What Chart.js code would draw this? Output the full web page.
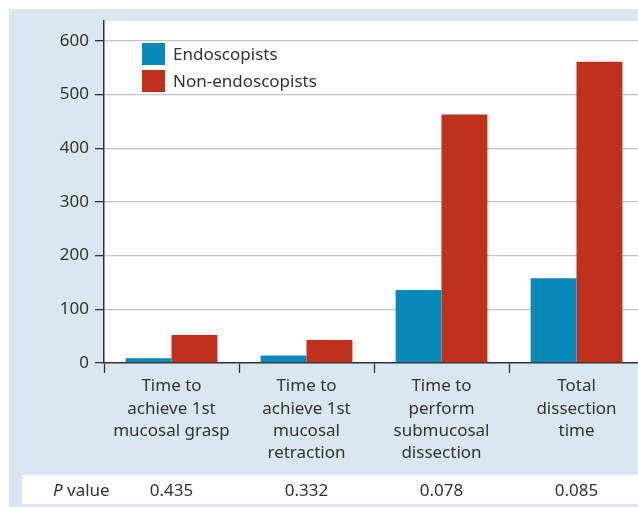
<!DOCTYPE html>
<html>
<head>
<meta charset="utf-8">
<script src="https://cdn.jsdelivr.net/npm/chart.js@4/dist/chart.umd.min.js"></script>
<style>
  html, body { margin: 0; padding: 0; background: #fff; overflow: hidden; }
  #wrap { width: 638px; height: 507px; overflow: hidden; }
  canvas { display: block; }
</style>
</head>
<body>
<div id="wrap"><canvas id="chart" width="644" height="507"></canvas></div>
<script>
// categories (multi-line labels)
const categories = [
    ['Time to', 'achieve 1st', 'mucosal grasp'],
    ['Time to', 'achieve 1st', 'mucosal', 'retraction'],
    ['Time to', 'perform', 'submucosal', 'dissection'],
    ['Total', 'dissection', 'time']
];
const endoscopists = [9, 14, 136, 158];
const nonEndoscopists = [52, 43, 463, 561];
const pValues = ['0.435', '0.332', '0.078', '0.085'];
const yTicks = [0, 100, 200, 300, 400, 500, 600];

const BLUE = '#0a88b8';
const RED = '#bf311d';
const PANEL = '#d9e8f0';
const TEXT = '#333333';
const FONT = '"Noto Sans", "DejaVu Sans", sans-serif';

// backgrounds: light blue panel, white plot, white p-value row
const panelPlugin = {
    id: 'panel',
    beforeDraw(chart) {
        const c = chart.ctx;
        const a = chart.chartArea;
        c.save();
        c.fillStyle = '#fff';
        c.fillRect(0, 0, chart.width, chart.height);
        c.fillStyle = PANEL;
        c.fillRect(9, 9, chart.width - 9, chart.height - 9);
        c.fillStyle = '#fff';
        c.fillRect(a.left, a.top, a.right - a.left, a.bottom - a.top);
        c.fillRect(22, 475, chart.width - 22, 29);
        c.restore();
    },
    afterDraw(chart) {
        const c = chart.ctx;
        const x = chart.scales.x;
        c.save();
        // legend
        const items = chart.data.datasets;
        items.forEach((ds, i) => {
            const y = 43 + i * 27;
            c.fillStyle = ds.backgroundColor;
            c.fillRect(142, y, 23, 22);
            c.fillStyle = TEXT;
            c.font = '17px ' + FONT;
            c.textBaseline = 'middle';
            c.textAlign = 'left';
            c.fillText(ds.label, 173, y + 12);
        });
        // p value row
        c.fillStyle = TEXT;
        c.textBaseline = 'middle';
        c.font = 'italic 17px ' + FONT;
        c.textAlign = 'left';
        c.fillText('P', 53, 491);
        const pw = c.measureText('P ').width;
        c.font = '17px ' + FONT;
        c.fillText('value', 53 + pw, 491);
        c.textAlign = 'center';
        pValues.forEach((p, i) => {
            c.fillText(p, x.getPixelForValue(i), 491);
        });
        c.restore();
    }
};

const ctx = document.getElementById('chart').getContext('2d');
window.chartInstance = new Chart(ctx, {
    type: 'bar',
    data: {
        labels: categories,
        datasets: [{
            label: 'Endoscopists',
            data: endoscopists,
            backgroundColor: BLUE
        }, {
            label: 'Non-endoscopists',
            data: nonEndoscopists,
            backgroundColor: RED
        }]
    },
    options: {
        responsive: false,
        animation: false,
        layout: { padding: { top: 21, right: 0, bottom: 0, left: 0 } },
        datasets: { bar: { categoryPercentage: 0.68, barPercentage: 1 } },
        plugins: {
            legend: { display: false },
            tooltip: { enabled: false }
        },
        scales: {
            x: {
                offset: true,
                grid: {
                    offset: true,
                    drawOnChartArea: false,
                    tickLength: 10,
                    tickColor: TEXT,
                    tickWidth: 1.3
                },
                border: { color: TEXT, width: 1.5 },
                ticks: {
                    color: TEXT,
                    font: { family: FONT, size: 17, lineHeight: 1.32 },
                    maxRotation: 0,
                    autoSkip: false,
                    padding: 2
                },
                afterFit(scale) { scale.height = 144; }
            },
            y: {
                min: 0,
                max: 637,
                grid: {
                    color: '#c4c4c4',
                    lineWidth: 1.3,
                    tickLength: 9,
                    tickColor: TEXT,
                    tickWidth: 1.3
                },
                border: { color: TEXT, width: 1.5 },
                ticks: {
                    stepSize: 100,
                    color: TEXT,
                    padding: 6,
                    font: { family: FONT, size: 17 }
                },
                afterBuildTicks(scale) {
                    scale.ticks = yTicks.map(v => ({ value: v }));
                },
                afterFit(scale) { scale.width = 104; }
            }
        }
    },
    plugins: [panelPlugin]
});
</script>
</body>
</html>
